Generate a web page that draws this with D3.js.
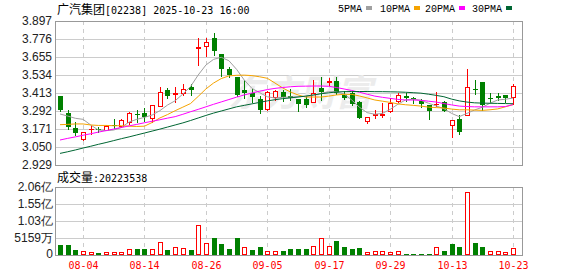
<!DOCTYPE html>
<html>
<head>
<meta charset="utf-8">
<script src="https://cdn.jsdelivr.net/npm/d3@7"></script>
<style>
  body { margin: 0; background: #fff; }
  svg { display: block; }
</style>
</head>
<body>
<script>
var w = 578,
    h = 276;
    plotLeft = 55;
    plotRight = 522;
    priceTop = 21;
    priceBottom = 165;
    volTop = 187;
    volBottom = 255;

// trading days shown
const dates = ["07-30","07-31","08-01","08-04","08-05","08-06","08-07","08-08","08-11","08-12",
    "08-13","08-14","08-15","08-18","08-19","08-20","08-21","08-22","08-25","08-26",
    "08-27","08-28","08-29","09-01","09-02","09-03","09-04","09-05","09-08","09-09",
    "09-10","09-11","09-12","09-15","09-16","09-17","09-18","09-19","09-22","09-23",
    "09-24","09-25","09-26","09-29","09-30","10-02","10-03","10-06","10-08","10-09",
    "10-10","10-13","10-14","10-15","10-16","10-17","10-20","10-21","10-22","10-23"];

const opens = [3.393,3.276,3.175,3.102,3.168,3.170,3.167,3.198,3.193,3.215,
    3.272,3.279,3.243,3.323,3.431,3.404,3.415,3.451,3.718,3.727,
    3.780,3.675,3.574,3.518,3.433,3.415,3.373,3.303,3.384,3.420,
    3.393,3.371,3.371,3.355,3.449,3.490,3.494,3.400,3.415,3.355,
    3.223,3.268,3.268,3.295,3.362,3.393,3.378,3.359,3.332,3.337,
    3.353,3.200,3.238,3.263,3.438,3.485,3.382,3.393,3.400,3.384];
const highs = [3.395,3.299,3.220,3.152,3.190,3.186,3.197,3.238,3.238,3.285,
    3.299,3.310,3.330,3.451,3.444,3.456,3.471,3.471,3.780,3.780,
    3.814,3.677,3.589,3.520,3.500,3.437,3.393,3.427,3.433,3.433,
    3.440,3.373,3.393,3.500,3.518,3.512,3.518,3.429,3.422,3.357,
    3.254,3.301,3.344,3.377,3.415,3.415,3.384,3.371,3.332,3.420,
    3.362,3.232,3.265,3.574,3.498,3.487,3.411,3.411,3.400,3.474];
const lows = [3.290,3.173,3.131,3.098,3.140,3.150,3.162,3.175,3.184,3.206,
    3.220,3.222,3.220,3.323,3.377,3.355,3.400,3.400,3.601,3.664,
    3.668,3.527,3.523,3.393,3.382,3.355,3.281,3.299,3.366,3.358,
    3.366,3.295,3.321,3.352,3.366,3.467,3.406,3.371,3.332,3.245,
    3.214,3.245,3.254,3.288,3.355,3.359,3.348,3.317,3.236,3.326,
    3.290,3.120,3.135,3.263,3.404,3.299,3.355,3.366,3.355,3.339];
const closes = [3.299,3.182,3.142,3.149,3.173,3.166,3.193,3.195,3.229,3.278,
    3.267,3.252,3.330,3.417,3.393,3.413,3.440,3.433,3.722,3.754,
    3.698,3.574,3.534,3.400,3.415,3.384,3.299,3.422,3.424,3.389,
    3.382,3.339,3.332,3.415,3.422,3.496,3.415,3.377,3.339,3.247,
    3.250,3.272,3.275,3.348,3.397,3.382,3.375,3.337,3.295,3.341,
    3.295,3.232,3.153,3.456,3.435,3.332,3.378,3.380,3.382,3.460];

// moving averages as drawn
const ma5 = [3.272,3.258,3.243,3.236,3.198,3.164,3.160,3.164,3.182,3.218,
    3.236,3.249,3.265,3.294,3.332,3.361,3.406,3.456,3.534,3.601,
    3.639,3.653,3.630,3.572,3.500,3.444,3.415,3.388,3.379,3.384,
    3.386,3.388,3.391,3.397,3.411,3.422,3.422,3.406,3.366,3.317,
    3.281,3.270,3.276,3.303,3.337,3.366,3.371,3.364,3.344,3.326,
    3.308,3.276,3.254,3.276,3.299,3.317,3.344,3.366,3.371,3.379];
const ma10 = [3.200,3.202,3.205,3.205,3.198,3.195,3.195,3.193,3.193,3.190,
    3.188,3.190,3.215,3.245,3.268,3.294,3.318,3.342,3.390,3.440,
    3.480,3.510,3.528,3.532,3.533,3.530,3.522,3.512,3.480,3.447,
    3.420,3.400,3.386,3.386,3.386,3.392,3.400,3.404,3.404,3.393,
    3.380,3.366,3.358,3.350,3.340,3.334,3.330,3.325,3.318,3.315,
    3.312,3.305,3.300,3.300,3.298,3.296,3.300,3.306,3.320,3.335];
const ma20 = [3.097,3.108,3.118,3.129,3.139,3.150,3.160,3.171,3.181,3.192,
    3.202,3.213,3.223,3.233,3.244,3.254,3.270,3.287,3.303,3.320,
    3.337,3.353,3.369,3.385,3.400,3.413,3.425,3.436,3.444,3.450,
    3.455,3.458,3.459,3.460,3.460,3.458,3.450,3.440,3.430,3.418,
    3.405,3.392,3.384,3.377,3.370,3.366,3.366,3.364,3.358,3.352,
    3.342,3.333,3.325,3.322,3.320,3.320,3.320,3.320,3.322,3.335];
const ma30 = [3.007,3.018,3.030,3.043,3.055,3.068,3.080,3.093,3.106,3.118,
    3.131,3.144,3.157,3.170,3.184,3.198,3.212,3.228,3.245,3.262,
    3.278,3.292,3.306,3.320,3.330,3.340,3.350,3.360,3.368,3.375,
    3.380,3.386,3.392,3.400,3.408,3.414,3.420,3.422,3.423,3.423,
    3.423,3.422,3.422,3.421,3.420,3.418,3.415,3.412,3.405,3.397,
    3.388,3.372,3.360,3.352,3.347,3.345,3.344,3.343,3.342,3.341];

const volumes = [30e6,30e6,15e6,11e6,8e6,6e6,8e6,8e6,8e6,17e6,
    18e6,18e6,17e6,38e6,15e6,23e6,21e6,15e6,90e6,35e6,
    51e6,33e6,18e6,51e6,23e6,15e6,24e6,13e6,11e6,12e6,
    18e6,18e6,18e6,26e6,53e6,26e6,42e6,24e6,18e6,21e6,
    8e6,13e6,13e6,8e6,11e6,3e6,3e6,3e6,3e6,23e6,
    12e6,33e6,24e6,191e6,36e6,24e6,13e6,13e6,8e6,20223538];

const priceTicks = [2.929,3.050,3.171,3.292,3.413,3.534,3.655,3.776,3.897];
const volTicks = [0,51590000,103180000,154770000,206360000];
const volTickLabels = ["0","5159万","1.03亿","1.55亿","2.06亿"];
const dateTicks = ["08-04","08-14","08-26","09-05","09-17","09-29","10-13","10-23"];

const maNames = ["5PMA","10PMA","20PMA","30PMA"];
const maColors = ["#a0a0a0","#f5a300","#ff00ff","#006633"];
const maSeries = [ma5, ma10, ma20, ma30];

const upColor = "#ff0000",
      downColor = "#008000";

var svg = d3.select("body").append("svg")
    .attr("width", w)
    .attr("height", h)
    .style("font-family", "'Liberation Sans', Arial, sans-serif");

const x = d3.scalePoint().domain(dates).range([60, 513]);
const y = d3.scaleLinear().domain([2.929, 3.897]).range([priceBottom, priceTop]);
const yv = d3.scaleLinear().domain([0, 206360000]).range([volBottom, volTop]);

const px = (d) => Math.round(x(d)) + 0.5;
const py = (v) => Math.round(y(v)) + 0.5;

const candles = dates.map((d, i) => ({
    date: d, open: opens[i], high: highs[i], low: lows[i], close: closes[i],
    vol: volumes[i],
    up: closes[i] >= opens[i],
    volUp: i == 0 ? closes[i] >= opens[i] : closes[i] >= closes[i - 1]
}));

// ---------- grid ----------
const grid = svg.append("g").attr("shape-rendering", "crispEdges");

grid.selectAll(".hp").data(priceTicks.slice(1, -1)).enter().append("line")
    .attr("x1", plotLeft).attr("x2", plotRight)
    .attr("y1", (d) => py(d)).attr("y2", (d) => py(d))
    .attr("stroke", "#cccccc");

grid.selectAll(".hv").data(volTicks.slice(1, -1)).enter().append("line")
    .attr("x1", plotLeft).attr("x2", plotRight)
    .attr("y1", (d) => Math.round(yv(d)) + 0.5).attr("y2", (d) => Math.round(yv(d)) + 0.5)
    .attr("stroke", "#cccccc");

[[priceTop, priceBottom], [volTop, volBottom]].forEach(([t, b]) => {
    grid.selectAll(null).data(dateTicks).enter().append("line")
        .attr("x1", (d) => px(d)).attr("x2", (d) => px(d))
        .attr("y1", t).attr("y2", b)
        .attr("stroke", "#cccccc")
        .attr("stroke-dasharray", "4,4");
});

// watermark
svg.append("text")
    .attr("x", 300).attr("y", 106)
    .attr("text-anchor", "middle")
    .style("font-family", "'Noto Sans CJK SC', sans-serif")
    .style("font-size", "36px")
    .style("font-weight", "bold")
    .style("font-style", "italic")
    .attr("fill", "#ececec")
    .text("东方财富");

// ---------- candles ----------
const cg = svg.append("g").attr("shape-rendering", "crispEdges");

cg.selectAll(".wick").data(candles).enter().append("line")
    .attr("x1", (d) => px(d.date)).attr("x2", (d) => px(d.date))
    .attr("y1", (d) => Math.round(y(d.high))).attr("y2", (d) => Math.round(y(d.low)) + 1)
    .attr("stroke", (d) => d.up ? upColor : downColor);

cg.selectAll(".body").data(candles).enter().append("rect")
    .attr("x", (d) => d.up ? px(d.date) - 2 : px(d.date) - 2.5)
    .attr("y", (d) => d.up ? py(Math.max(d.open, d.close)) : Math.round(y(d.open)))
    .attr("width", (d) => d.up ? 4 : 5)
    .attr("height", (d) => d.up
        ? Math.max(0.01, Math.round(y(d.open)) - Math.round(y(d.close)))
        : Math.max(1, Math.round(y(d.close)) - Math.round(y(d.open))))
    .attr("fill", (d) => d.up ? "#ffffff" : downColor)
    .attr("stroke", (d) => d.up ? upColor : "none");

// moving averages
maSeries.forEach((series, k) => {
    svg.append("path")
        .datum(series)
        .attr("fill", "none")
        .attr("stroke", maColors[k])
        .attr("stroke-width", 1)
        .attr("d", d3.line().x((v, i) => x(dates[i])).y((v) => y(v)));
});

// ---------- volume ----------
const vg = svg.append("g").attr("shape-rendering", "crispEdges");

vg.selectAll("rect").data(candles).enter().append("rect")
    .attr("x", (d) => d.volUp ? px(d.date) - 2 : px(d.date) - 2.5)
    .attr("y", (d) => d.volUp ? Math.round(yv(d.vol)) + 0.5 : Math.round(yv(d.vol)))
    .attr("width", (d) => d.volUp ? 4 : 5)
    .attr("height", (d) => d.volUp
        ? volBottom - Math.round(yv(d.vol)) - 1
        : volBottom - Math.round(yv(d.vol)))
    .attr("fill", (d) => d.volUp ? "#ffffff" : downColor)
    .attr("stroke", (d) => d.volUp ? upColor : "none");

// ---------- frames ----------
const frame = svg.append("g")
    .attr("shape-rendering", "crispEdges")
    .attr("fill", "none")
    .attr("stroke", "#999999");

frame.append("rect")
    .attr("x", plotLeft + 0.5).attr("y", priceTop + 0.5)
    .attr("width", plotRight - plotLeft).attr("height", priceBottom - priceTop);
frame.append("rect")
    .attr("x", plotLeft + 0.5).attr("y", volTop + 0.5)
    .attr("width", plotRight - plotLeft).attr("height", volBottom - volTop);

// ---------- axis labels ----------
svg.selectAll(".ylab").data(priceTicks).enter().append("text")
    .attr("x", 52).attr("y", (d) => y(d))
    .attr("dy", "0.36em")
    .attr("text-anchor", "end")
    .style("font-size", "12px")
    .attr("fill", "#222")
    .text((d) => d3.format(".3f")(d));

svg.selectAll(".vlab").data(volTicks).enter().append("text")
    .attr("x", 53).attr("y", (d, i) => yv(d) - (i == 0 ? 1 : 0))
    .attr("dy", "0.36em")
    .attr("text-anchor", "end")
    .style("font-size", "12px")
    .attr("fill", "#222")
    .text((d, i) => volTickLabels[i]);

svg.selectAll(".xlab").data(dateTicks).enter().append("text")
    .attr("x", (d) => px(d)).attr("y", 269)
    .attr("text-anchor", "middle")
    .style("font-family", "'DejaVu Sans Mono', monospace")
    .style("font-size", "10px")
    .attr("fill", "#ff0000")
    .text((d) => d);

// ---------- titles ----------
const title = svg.append("text").attr("x", 57).attr("y", 14).attr("fill", "#000");
title.append("tspan")
    .style("font-family", "'Noto Sans CJK SC', sans-serif").style("font-size", "12px")
    .text("广汽集团");
title.append("tspan")
    .style("font-family", "'DejaVu Sans Mono', monospace").style("font-size", "10px")
    .text("[02238] 2025-10-23 16:00");

const volTitle = svg.append("text").attr("x", 57).attr("y", 182).attr("fill", "#000");
volTitle.append("tspan")
    .style("font-family", "'Noto Sans CJK SC', sans-serif").style("font-size", "12px")
    .text("成交量");
volTitle.append("tspan")
    .style("font-family", "'DejaVu Sans Mono', monospace").style("font-size", "10px")
    .text(":" + volumes[volumes.length - 1]);

// legend
const legendX = [338, 380, 425, 472];
const legend = svg.selectAll(".leg").data(maNames).enter().append("g")
    .attr("transform", (d, i) => "translate(" + legendX[i] + ",0)");
legend.append("text")
    .attr("x", 0).attr("y", 12)
    .style("font-family", "'Liberation Mono', monospace")
    .style("font-size", "10px")
    .attr("fill", "#000")
    .text((d) => d);
legend.append("rect")
    .attr("x", (d) => d.length * 6 + 4).attr("y", 6)
    .attr("width", 6).attr("height", 4)
    .attr("fill", (d, i) => maColors[i]);
</script>
</body>
</html>
